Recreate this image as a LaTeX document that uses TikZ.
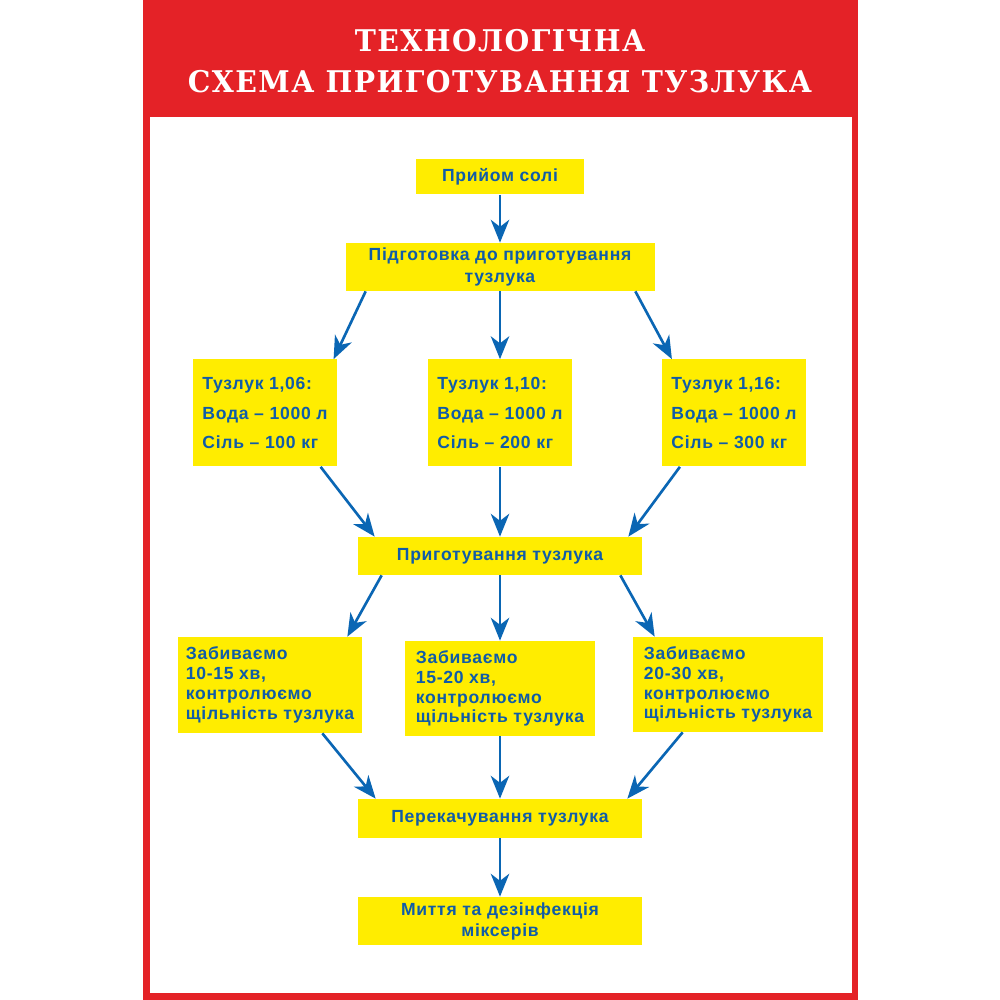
\documentclass[tikz,border=0pt]{standalone}
\usepackage{fontspec}
\setmainfont{Liberation Sans}
\newfontfamily\titlefont[LetterSpace=5]{DejaVu Serif}
\newfontfamily\boxfont[LetterSpace=4]{Liberation Sans}
\usetikzlibrary{arrows.meta,positioning}
\definecolor{framered}{RGB}{228,34,39}
\definecolor{boxyellow}{RGB}{255,237,0}
\definecolor{txtblue}{RGB}{16,92,168}
\definecolor{arrblue}{RGB}{10,102,180}

\begin{document}
\begin{tikzpicture}[
    box/.style={fill=boxyellow, inner sep=0pt, text=txtblue, align=center,
        font=\boxfont\bfseries\fontsize{10}{12}\selectfont},
    tuzbox/.style={box, align=left, minimum width=2.87cm, minimum height=2.14cm,
        font=\boxfont\bfseries\fontsize{10}{17}\selectfont},
    zabbox/.style={box, align=left, minimum width=3.8cm, minimum height=1.9cm,
        font=\boxfont\bfseries\fontsize{10}{11.3}\selectfont},
    widebox/.style={box, minimum width=5.68cm},
    titletext/.style={text=white, xscale=0.95, font=\titlefont\bfseries\fontsize{17}{20}\selectfont},
    arr/.style={-{Stealth[length=13pt,width=10.5pt,inset=4pt]}, arrblue, line width=1.5pt}]
\useasboundingbox (0,0) rectangle (20,20);
% frame
\fill[framered] (2.86,0) rectangle (17.16,20);
\fill[white] (3.0,0.14) rectangle (17.04,17.66);
\node[titletext] (title1) at (10,19.18) {ТЕХНОЛОГІЧНА};
\node[titletext] (title2) at (10,18.36) {СХЕМА ПРИГОТУВАННЯ ТУЗЛУКА};

% boxes
\node[box, minimum width=3.36cm, minimum height=0.7cm] (priyom) at (10,16.46) {Прийом солі};
\node[box, minimum width=6.18cm, minimum height=0.96cm] (pidgot) at (10,14.66) {Підготовка до приготування\\тузлука};
\node[tuzbox] (tuz1) at (5.30,11.74) {Тузлук 1,06:\\Вода – 1000 л\\Сіль – 100 кг};
\node[tuzbox] (tuz2) at (10,11.74) {Тузлук 1,10:\\Вода – 1000 л\\Сіль – 200 кг};
\node[tuzbox] (tuz3) at (14.68,11.74) {Тузлук 1,16:\\Вода – 1000 л\\Сіль – 300 кг};
\node[widebox, minimum height=0.76cm] (prygot) at (10,8.88) {Приготування тузлука};
\node[zabbox, minimum width=3.68cm, minimum height=1.92cm] (zab1) at (5.40,6.30) {Забиваємо\\10-15 хв,\\контролюємо\\щільність тузлука};
\node[zabbox] (zab2) at (10,6.23) {Забиваємо\\15-20 хв,\\контролюємо\\щільність тузлука};
\node[zabbox] (zab3) at (14.56,6.31) {Забиваємо\\20-30 хв,\\контролюємо\\щільність тузлука};
\node[widebox, minimum height=0.78cm] (perek) at (10,3.63) {Перекачування тузлука};
\node[widebox, minimum height=0.96cm] (myttia) at (10,1.58) {Миття та дезінфекція\\міксерів};

% arrows
\draw[arr] (priyom) -- (pidgot);
\draw[arr] ([xshift=0.41cm]pidgot.south west) -- ([xshift=-0.07cm]tuz1.north east);
\draw[arr] (pidgot) -- (tuz2);
\draw[arr] ([xshift=-0.39cm]pidgot.south east) -- ([xshift=0.2cm]tuz3.north west);
\draw[arr] ([xshift=-0.33cm]tuz1.south east) -- ([xshift=0.34cm]prygot.north west);
\draw[arr] (tuz2) -- (prygot);
\draw[arr] ([xshift=0.36cm]tuz3.south west) -- ([xshift=-0.28cm]prygot.north east);
\draw[arr] ([xshift=0.48cm]prygot.south west) -- ([xshift=-0.3cm]zab1.north east);
\draw[arr] (prygot) -- (zab2);
\draw[arr] ([xshift=-0.44cm]prygot.south east) -- ([xshift=0.44cm]zab3.north west);
\draw[arr] ([xshift=-0.8cm]zab1.south east) -- ([xshift=0.36cm]perek.north west);
\draw[arr] (zab2) -- (perek);
\draw[arr] ([xshift=1.0cm]zab3.south west) -- ([xshift=-0.3cm]perek.north east);
\draw[arr] (perek) -- (myttia);
\end{tikzpicture}
\end{document}
